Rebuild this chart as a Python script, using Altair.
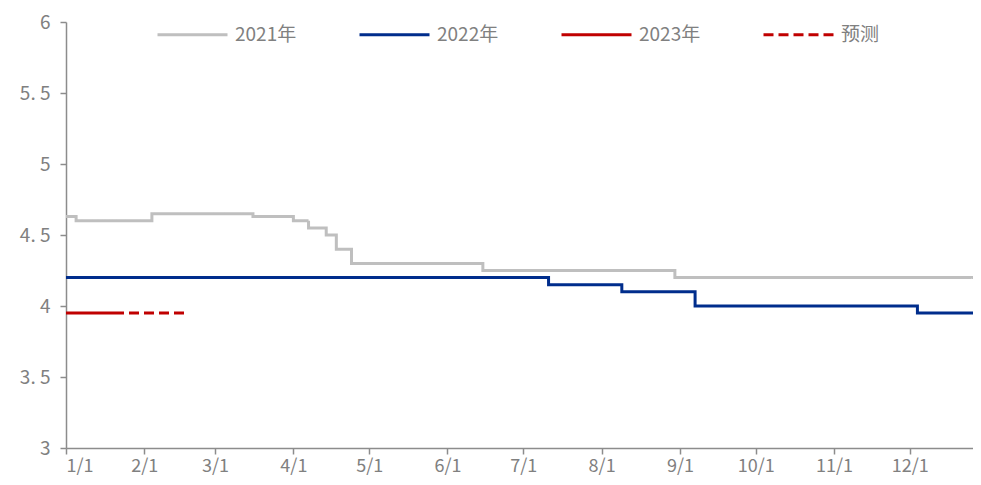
import altair as alt
import pandas as pd

# ---- data ----
s2021_dates = ["2023-01-01", "2023-01-05", "2023-02-04", "2023-03-16", "2023-04-01",
               "2023-04-07", "2023-04-14", "2023-04-18", "2023-04-24", "2023-06-15",
               "2023-08-30", "2023-12-29"]
s2021_vals = [4.63, 4.60, 4.65, 4.63, 4.60, 4.55, 4.50, 4.40, 4.30, 4.25, 4.20, 4.20]

s2022_dates = ["2023-01-01", "2023-07-11", "2023-08-09", "2023-09-07", "2023-12-04", "2023-12-29"]
s2022_vals = [4.20, 4.15, 4.10, 4.00, 3.95, 3.95]

s2023_dates = ["2023-01-01", "2023-01-20"]
s2023_vals = [3.95, 3.95]

fc_dates = ["2023-01-20", "2023-02-17"]
fc_vals = [3.95, 3.95]

month_labels = ["1/1", "2/1", "3/1", "4/1", "5/1", "6/1", "7/1", "8/1", "9/1",
                "10/1", "11/1", "12/1"]
axis_end = "2023-12-26"

series_names = ["2021年", "2022年", "2023年", "预测"]
series_colors = ["#BFBFBF", "#002D8C", "#C00000", "#C00000"]
series_dash = [[1, 0], [1, 0], [1, 0], [10, 5]]

start = pd.Timestamp("2023-01-01")


def day_of(d):
    return int((pd.Timestamp(d) - start).days)


rows = []
for name, ds, vs in [("2021年", s2021_dates, s2021_vals),
                     ("2022年", s2022_dates, s2022_vals),
                     ("2023年", s2023_dates, s2023_vals),
                     ("预测", fc_dates, fc_vals)]:
    for d, v in zip(ds, vs):
        rows.append({"day": day_of(d), "value": v, "series": name})
df = pd.DataFrame(rows)

tick_days = [day_of(f"2023-{m:02d}-01") for m in range(1, 13)]
label_map = "{" + ",".join(f"'{d}':'{l}'" for d, l in zip(tick_days, month_labels)) + "}"

FONT = "Noto Sans CJK SC"
GREY = "#808080"
AXC = "#8C8C8C"

legend = alt.Legend(orient="none", legendX=90, legendY=-24,
                    direction="horizontal", title=None,
                    symbolType="stroke", symbolSize=4900,
                    symbolStrokeWidth=3, labelFontSize=19,
                    labelFont=FONT, labelColor=GREY, labelOffset=6,
                    columns=4, gridAlign="all", columnPadding=56)

chart = alt.Chart(df).mark_line(interpolate="step-after", strokeWidth=3, clip=True).encode(
    x=alt.X("day:Q",
            scale=alt.Scale(domain=[0, day_of(axis_end)], nice=False, zero=False),
            axis=alt.Axis(values=tick_days, labelExpr=label_map + "[datum.value + '']",
                          title=None, grid=False,
                          domainColor=AXC, tickColor=AXC, tickSize=6,
                          labelColor=GREY, labelFontSize=18, labelFont=FONT,
                          labelBaseline="alphabetic", labelPadding=17,
                          domainWidth=1.5, tickWidth=1.5, labelOverlap=False)),
    y=alt.Y("value:Q",
            scale=alt.Scale(domain=[3, 6], nice=False, zero=False),
            axis=alt.Axis(values=[3, 3.5, 4, 4.5, 5, 5.5, 6], title=None,
                          labelExpr="replace(format(datum.value, '.1~f'), '.', '. ')",
                          grid=False, domainColor=AXC, tickColor=AXC,
                          tickSize=6, labelColor=GREY, labelFontSize=19, labelFont=FONT,
                          labelPadding=10, domainWidth=1.5, tickWidth=1.5)),
    color=alt.Color("series:N",
                    scale=alt.Scale(domain=series_names, range=series_colors),
                    legend=legend),
    strokeDash=alt.StrokeDash("series:N",
                              scale=alt.Scale(domain=series_names, range=series_dash),
                              legend=legend),
    detail="series:N",
).properties(
    width=907, height=426,
    autosize=alt.AutoSizeParams(type="none"),
    padding={"left": 58, "top": 14, "right": 0, "bottom": 29},
).configure(background="white").configure_view(stroke=None)

chart.save("out.html", embed_options={"renderer": "svg", "actions": False})
